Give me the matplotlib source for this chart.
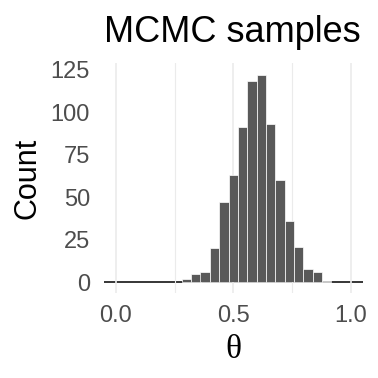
import matplotlib.pyplot as plt
import numpy as np

# histogram of MCMC samples (bin centres and counts)
bin_centers = [0.301, 0.341, 0.380, 0.420, 0.460, 0.499, 0.539, 0.579,
               0.618, 0.658, 0.698, 0.737, 0.777, 0.817, 0.856, 0.896]
counts = [2, 5, 6, 20, 47, 63, 91, 118, 122, 93, 60, 36, 21, 8, 6, 1]
bin_width = 0.0397

x_ticks = [0.0, 0.5, 1.0]
x_labels = ["0.0", "0.5", "1.0"]
y_ticks = [0, 25, 50, 75, 100, 125]

plt.rcParams['font.family'] = ['Liberation Sans', 'DejaVu Sans']

fig = plt.figure(figsize=(3.78, 3.78), dpi=100)
ax = fig.add_axes([0.275, 0.225, 0.685, 0.608])

ax.axhline(0, color="black", lw=1.1, zorder=1)
ax.bar(bin_centers, counts, width=bin_width, color="#595959",
       edgecolor="white", linewidth=0.5, zorder=2)

ax.set_xlim(-0.05, 1.05)
ax.set_ylim(-6.3, 128.8)

ax.set_xticks(x_ticks)
ax.set_xticklabels(x_labels)
ax.set_xticks([0.25, 0.75], minor=True)
ax.set_yticks(y_ticks)

ax.grid(axis="x", which="major", color="#EBEBEB", lw=1.2, zorder=0)
ax.grid(axis="x", which="minor", color="#EBEBEB", lw=0.8, zorder=0)
ax.grid(axis="y", visible=False)

for s in ax.spines.values():
    s.set_visible(False)
ax.tick_params(which="both", length=0)
ax.tick_params(axis="x", labelsize=17, labelcolor="#4D4D4D", pad=9)
ax.tick_params(axis="y", labelsize=17, labelcolor="#4D4D4D", pad=10)

ax.set_ylabel("Count", fontsize=22, labelpad=6)
ax.set_xlabel("θ", fontsize=24, family=["Liberation Serif", "DejaVu Serif"],
              labelpad=5)

fig.text(104 / 378, 1 - 42 / 378, "MCMC samples", fontsize=26,
         ha="left", va="baseline")

fig.savefig("out.png", dpi=100)
